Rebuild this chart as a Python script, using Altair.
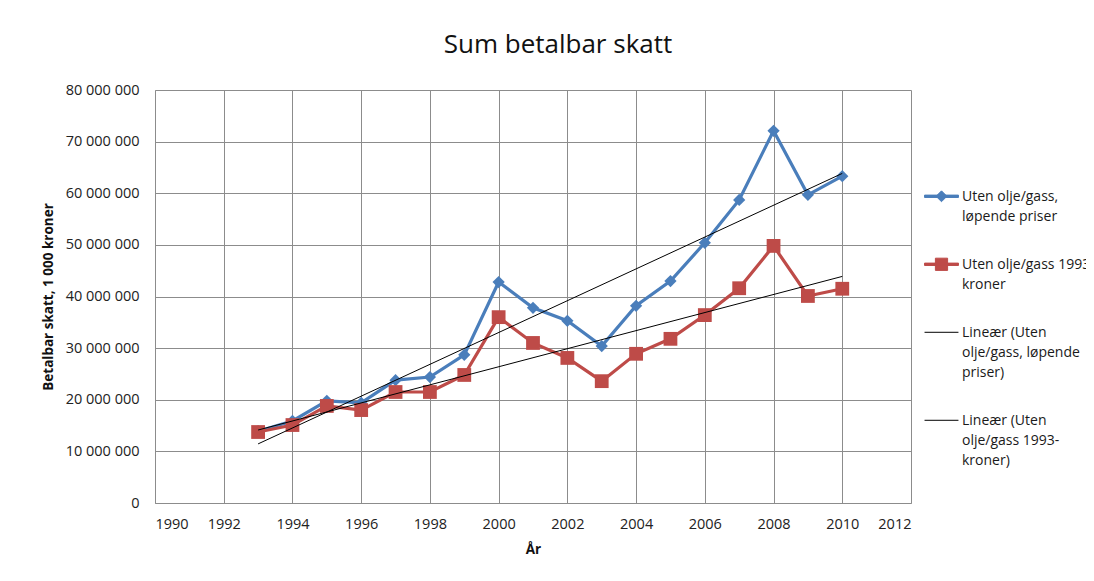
import json
import altair as alt
import pandas as pd

# ---- data ----
years = list(range(1993, 2011))
lopende_priser = [13900000, 15900000, 19800000, 19400000, 23800000, 24400000,
                  28700000, 42800000, 37800000, 35300000, 30400000, 38200000,
                  43000000, 50400000, 58700000, 72100000, 59700000, 63300000]
kroner_1993 = [13750000, 15100000, 18800000, 18000000, 21500000, 21500000,
               24800000, 36000000, 31000000, 28100000, 23600000, 28900000,
               31800000, 36400000, 41600000, 49800000, 40100000, 41500000]

S1 = "Uten olje/gass, løpende priser"
S2 = "Uten olje/gass 1993-kroner"
T1 = "Lineær (Uten olje/gass, løpende priser)"
T2 = "Lineær (Uten olje/gass 1993-kroner)"
series_names = [S1, S2, T1, T2]
legend_lines = {
    S1: ["Uten olje/gass,", "løpende priser"],
    S2: ["Uten olje/gass 1993-", "kroner"],
    T1: ["Lineær (Uten", "olje/gass, løpende", "priser)"],
    T2: ["Lineær (Uten", "olje/gass 1993-", "kroner)"],
}
x_ticks = list(range(1990, 2013, 2))
y_ticks = list(range(0, 80000001, 10000000))

BLUE = "#4a7ebb"
RED = "#be4b48"
GRID = "#8c8c8c"
FONT = "Open Sans"

df = pd.concat([
    pd.DataFrame({"year": years, "value": lopende_priser, "series": S1}),
    pd.DataFrame({"year": years, "value": kroner_1993, "series": S2}),
], ignore_index=True)

x_enc = alt.X("year:Q",
              scale=alt.Scale(domain=[1990, 2012], nice=False, zero=False),
              axis=alt.Axis(values=x_ticks, format="d", title="År"))
y_enc = alt.Y("value:Q",
              scale=alt.Scale(domain=[0, 80000000], nice=False),
              axis=alt.Axis(values=y_ticks, title="Betalbar skatt, 1 000 kroner",
                            labelExpr="replace(format(datum.value, ','), /,/g, ' ')"))

base = alt.Chart(df)

lines = base.mark_line(strokeWidth=3.2).encode(
    x=x_enc, y=y_enc,
    color=alt.Color("series:N", scale=alt.Scale(domain=[S1, S2], range=[BLUE, RED]), legend=None),
    detail="series:N",
)

pts_blue = base.transform_filter(alt.datum.series == S1).mark_point(
    shape="diamond", filled=True, size=150, opacity=1, color=BLUE
).encode(x="year:Q", y="value:Q")

pts_red = base.transform_filter(alt.datum.series == S2).mark_point(
    shape="square", filled=True, size=190, opacity=1, color=RED
).encode(x="year:Q", y="value:Q")

trend = base.transform_regression(
    "year", "value", groupby=["series"]
).mark_line(color="black", strokeWidth=1).encode(
    x="year:Q", y="value:Q", detail="series:N"
)

# legend-only layer (no visible marks)
label_expr = " : ".join(
    [f"datum.label == {json.dumps(k)} ? {json.dumps(v)}" for k, v in legend_lines.items()]
) + " : datum.label"

D = 0.4  # vertical shift of legend symbols (in symbol units) to sit on the first text line
paths = [
    f"M-1,{D-0.07}L1,{D-0.07}L1,{D+0.07}L-1,{D+0.07}Z M0,{D-0.32}L0.32,{D}L0,{D+0.32}L-0.32,{D}Z",
    f"M-1,{D-0.07}L1,{D-0.07}L1,{D+0.07}L-1,{D+0.07}Z M-0.36,{D-0.36}L0.36,{D-0.36}L0.36,{D+0.36}L-0.36,{D+0.36}Z",
    f"M-1,{D}L1,{D}",
    f"M-1,{D}L1,{D}",
]
colors4 = [BLUE, RED, "black", "black"]


def mk_legend():
    return alt.Legend(
        title=None, orient="none", legendX=769, legendY=82,
        symbolSize=1150, symbolStrokeWidth=1, symbolOpacity=1,
        labelExpr=label_expr, labelFont=FONT, labelFontSize=14,
        labelColor="#1a1a1a", labelBaseline="top", labelOffset=3,
        labelLimit=400, rowPadding=16, symbolOffset=0,
    )


legend_layer = base.transform_filter("false").mark_point(filled=True).encode(
    x="year:Q", y="value:Q",
    fill=alt.Fill("series:N", scale=alt.Scale(domain=series_names, range=colors4), legend=mk_legend()),
    stroke=alt.Stroke("series:N", scale=alt.Scale(domain=series_names, range=colors4), legend=mk_legend()),
    shape=alt.Shape("series:N", scale=alt.Scale(domain=series_names, range=paths), legend=mk_legend()),
)

chart = alt.layer(lines, pts_blue, pts_red, trend, legend_layer).properties(
    width=756, height=413,
    autosize=alt.AutoSizeParams(type="none"),
    padding={"left": 147, "top": 82, "right": 175, "bottom": 70},
    background="white",
    title=alt.TitleParams("Sum betalbar skatt", font=FONT, fontSize=26, fontWeight="normal",
                          color="#111111", anchor="middle", offset=24, dx=25),
).configure(
    axis={
        "grid": True, "gridColor": GRID, "gridWidth": 1,
        "domainColor": GRID, "domainWidth": 1, "ticks": False,
        "labelFont": FONT, "labelFontSize": 14.5, "labelColor": "#222222",
        "titleFont": FONT, "titleFontSize": 13.5, "titleFontWeight": "bold",
        "titleColor": "#111111",
    },
    axisY={"labelPadding": 16, "titlePadding": 10},
    axisX={"labelPadding": 14, "titlePadding": 12},
    view={"stroke": "transparent"},
    style={"guide-label": {"lineHeight": 20}},
)

chart.save("out.html", embed_options={"renderer": "svg", "actions": False})
